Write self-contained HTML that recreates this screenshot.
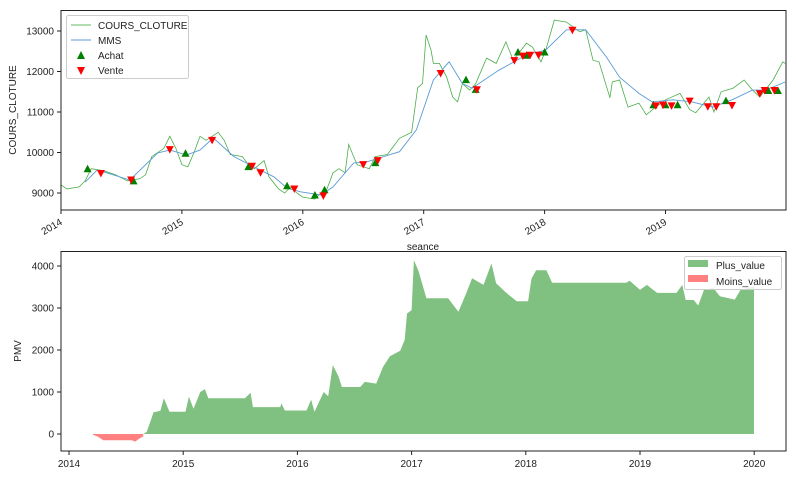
<!DOCTYPE html>
<html><head><meta charset="utf-8"><style>
body{margin:0;background:#fff}
svg text{font-family:"Liberation Sans","DejaVu Sans",sans-serif;font-size:10px;fill:#222}
</style></head><body>
<svg id="c" width="796" height="475" xmlns="http://www.w3.org/2000/svg"></svg>
<script>
// ---- top chart data ----
const priceT=[2014.0,2014.05,2014.15,2014.2,2014.25,2014.35,2014.45,2014.55,2014.65,2014.7,2014.75,2014.85,2014.9,2014.95,2015.0,2015.05,2015.1,2015.15,2015.2,2015.3,2015.35,2015.4,2015.5,2015.55,2015.6,2015.68,2015.72,2015.8,2015.85,2015.9,2015.95,2016.0,2016.1,2016.15,2016.2,2016.25,2016.3,2016.35,2016.38,2016.42,2016.45,2016.55,2016.6,2016.7,2016.8,2016.9,2016.95,2016.99,2017.02,2017.06,2017.08,2017.13,2017.19,2017.24,2017.28,2017.32,2017.38,2017.43,2017.52,2017.6,2017.68,2017.74,2017.85,2017.9,2017.97,2018.01,2018.08,2018.18,2018.29,2018.34,2018.4,2018.45,2018.54,2018.56,2018.62,2018.69,2018.78,2018.84,2018.92,2019.0,2019.12,2019.2,2019.25,2019.36,2019.4,2019.46,2019.56,2019.65,2019.72,2019.78,2019.89,2019.97,2019.99];
const priceV=[9200,9100,9150,9300,9600,9550,9450,9300,9350,9450,9900,10100,10400,10100,9700,9650,10000,10400,10300,10500,10300,9950,9900,9700,9600,9800,9400,9100,9000,9150,9000,8900,8850,9000,9100,9500,9600,9500,10200,9900,9700,9600,9900,9950,10350,10500,11600,11700,12900,12530,12200,12200,11860,11370,11250,11700,11540,11700,12330,12200,12730,12280,12700,12600,12240,12530,13270,13220,12980,13030,12280,12240,11350,11740,11790,11120,11220,10930,11120,11300,11460,11060,10980,11370,11000,11500,11590,11790,11540,11370,11790,12240,12200];
const mmsT=[2014.2,2014.3,2014.57,2014.8,2014.9,2015.04,2015.15,2015.26,2015.43,2015.6,2015.76,2015.87,2015.98,2016.15,2016.25,2016.42,2016.53,2016.8,2016.94,2017.08,2017.21,2017.32,2017.4,2017.62,2017.85,2018.01,2018.18,2018.34,2018.51,2018.62,2018.78,2018.89,2019.06,2019.22,2019.39,2019.55,2019.72,2019.83,2019.99];
const mmsV=[9270,9570,9320,9990,10060,9940,10060,10360,9900,9640,9400,9120,9030,8950,9150,9740,9770,10020,10560,11790,12240,11700,11590,12030,12410,12530,13030,13030,12360,11860,11460,11250,11300,11250,11120,11300,11540,11540,11740];
const buyT=[2014.22,2014.6,2015.03,2015.55,2015.87,2016.1,2016.18,2016.6,2017.35,2017.43,2017.78,2017.85,2018.0,2018.9,2019.0,2019.1,2019.5,2019.85,2019.93];
const buyV=[9600,9300,9980,9650,9180,8950,9080,9750,11800,11560,12480,12400,12480,11180,11180,11180,11280,11530,11530];
const sellT=[2014.33,2014.58,2014.9,2015.25,2015.58,2015.65,2015.93,2016.17,2016.5,2016.62,2017.14,2017.44,2017.75,2017.82,2017.88,2017.95,2018.23,2018.92,2018.98,2019.05,2019.2,2019.35,2019.42,2019.55,2019.78,2019.82,2019.9];
const sellV=[9480,9320,10070,10300,9660,9500,9100,8930,9700,9800,11950,11550,12270,12380,12400,12400,13020,11150,11170,11150,11270,11130,11130,11160,11450,11530,11530];
const topYTicks=[9000,10000,11000,12000,13000];
const topXTicks=[2014,2015,2016,2017,2018,2019];
// ---- bottom chart data ----
const lossT=[2014.21,2014.25,2014.3,2014.4,2014.55,2014.58,2014.62,2014.65];
const lossV=[-20,-60,-150,-150,-150,-180,-100,-60];
const gainT=[2014.65,2014.68,2014.72,2014.74,2014.8,2014.83,2014.88,2015.02,2015.05,2015.09,2015.15,2015.19,2015.22,2015.54,2015.59,2015.61,2015.85,2015.86,2015.89,2016.08,2016.12,2016.15,2016.23,2016.27,2016.31,2016.36,2016.39,2016.55,2016.59,2016.69,2016.75,2016.81,2016.9,2016.94,2016.96,2017.0,2017.02,2017.06,2017.13,2017.32,2017.41,2017.48,2017.53,2017.63,2017.7,2017.74,2017.83,2017.92,2018.02,2018.05,2018.09,2018.18,2018.23,2018.88,2018.91,2019.0,2019.06,2019.15,2019.32,2019.37,2019.4,2019.47,2019.51,2019.56,2019.64,2019.7,2019.83,2019.88,2019.998];
const gainV=[0,50,350,520,550,850,530,530,890,600,1000,1070,850,850,980,640,640,730,560,560,820,530,1000,900,1640,1370,1120,1120,1240,1200,1600,1850,1980,2240,2870,2950,4140,3880,3230,3230,2910,3360,3710,3550,4060,3590,3360,3160,3160,3700,3900,3900,3600,3600,3650,3430,3550,3360,3360,3550,3190,3190,3060,3430,3480,3280,3200,3430,3520];
const botYTicks=[0,1000,2000,3000,4000];
const botXTicks=[2014,2015,2016,2017,2018,2019,2020];

const NS='http://www.w3.org/2000/svg';
const svg=document.getElementById('c');
function mk(tag,attrs,parent){const e=document.createElementNS(NS,tag);for(const k in attrs)e.setAttribute(k,attrs[k]);(parent||svg).appendChild(e);return e;}
const tx=t=>61+(t-2014)*120.9, ty=v=>193-(v-9000)*0.0405;
const bx=t=>69+(t-2014)*114.2, by=v=>434-v*0.042;

let d='';priceT.forEach((t,i)=>{d+=(i?'L':'M')+tx(t).toFixed(1)+','+ty(priceV[i]).toFixed(1);});
let pl=mk('path',{d:d,fill:'none',stroke:'#2ca02c','stroke-width':0.8,'stroke-opacity':0.85});


d='';mmsT.forEach((t,i)=>{d+=(i?'L':'M')+tx(t).toFixed(1)+','+ty(mmsV[i]).toFixed(1);});
let ml=mk('path',{d:d,fill:'none',stroke:'#5b9bd5','stroke-width':0.9});


buyT.forEach((t,i)=>{const x=tx(t),y=ty(buyV[i]);
 const m=mk('polygon',{points:`${x-4},${y+3.5} ${x+4},${y+3.5} ${x},${y-4}`,fill:'#008000'});
 
 });
sellT.forEach((t,i)=>{const x=tx(t),y=ty(sellV[i]);
 const m=mk('polygon',{points:`${x-4},${y-3.5} ${x+4},${y-3.5} ${x},${y+4}`,fill:'#ff0000'});
 
 });
let fr=mk('rect',{x:61,y:10.5,width:725,height:199.5,fill:'none',stroke:'#222','stroke-width':1});


topYTicks.forEach(v=>{const y=ty(v);mk('line',{x1:57,x2:61,y1:y,y2:y,stroke:'#222'});
 const t=mk('text',{x:54,y:y+3.5,'text-anchor':'end'});t.textContent=v;
 
 });
topXTicks.forEach(yr=>{const x=tx(yr);mk('line',{x1:x,x2:x,y1:210,y2:214,stroke:'#222'});
 const t=mk('text',{x:x+2,y:224,'text-anchor':'end',transform:`rotate(-30 ${x+2} 224)`});t.textContent=yr;
 
 });

d='M'+bx(gainT[0])+','+by(0);gainT.forEach((t,i)=>{d+='L'+bx(t).toFixed(1)+','+by(gainV[i]).toFixed(1);});d+='L'+bx(gainT[gainT.length-1])+','+by(0)+'Z';
let ga=mk('path',{d:d,fill:'#80c080'});


d='M'+bx(lossT[0])+','+by(0);lossT.forEach((t,i)=>{d+='L'+bx(t).toFixed(1)+','+by(lossV[i]).toFixed(1);});d+='L'+bx(lossT[lossT.length-1])+','+by(0)+'Z';
let la=mk('path',{d:d,fill:'#ff8080'});


let fr2=mk('rect',{x:61,y:251.5,width:725,height:199.5,fill:'none',stroke:'#222','stroke-width':1});


botYTicks.forEach(v=>{const y=by(v);mk('line',{x1:57,x2:61,y1:y,y2:y,stroke:'#222'});
 const t=mk('text',{x:54,y:y+3.5,'text-anchor':'end'});t.textContent=v;
 
 });
botXTicks.forEach(yr=>{const x=bx(yr);mk('line',{x1:x,x2:x,y1:451,y2:455,stroke:'#222'});
 const t=mk('text',{x:x,y:467,'text-anchor':'middle'});t.textContent=yr;
 
 });
</script>
<div style="position:absolute;left:0;top:0;width:796px;height:475px;pointer-events:none">
<svg width="796" height="475" xmlns="http://www.w3.org/2000/svg" style="position:absolute;left:0;top:0">
 <text x="16" y="110" text-anchor="middle" transform="rotate(-90 16 110)">COURS_CLOTURE</text>
 <text x="423" y="250" text-anchor="middle">seance</text>
 <text x="21" y="351" text-anchor="middle" transform="rotate(-90 21 351)">PMV</text>
 <g>
  <rect x="66.5" y="15.5" width="122" height="63" rx="2" fill="#fff" stroke="#ccc"/>
  <line x1="71" x2="91" y1="25" y2="25" stroke="#2ca02c" stroke-width="0.8"/>
  <text x="98" y="29">COURS_CLOTURE</text>
  <line x1="71" x2="91" y1="40" y2="40" stroke="#5b9bd5" stroke-width="0.9"/>
  <text x="98" y="44">MMS</text>
  <polygon points="77,59 85,59 81,51" fill="#008000"/>
  <text x="98" y="59">Achat</text>
  <polygon points="77,67 85,67 81,75" fill="#ff0000"/>
  <text x="98" y="74">Vente</text>
 </g>
 <g>
  <rect x="684.5" y="256.5" width="97" height="33" rx="2" fill="#fff" fill-opacity="0.8" stroke="#ccc"/>
  <rect x="688" y="260" width="20" height="7" fill="#80c080"/>
  <text x="716" y="269">Plus_value</text>
  <rect x="688" y="275" width="20" height="7" fill="#ff8080"/>
  <text x="716" y="285">Moins_value</text>
 </g>
</svg></div>
</body></html>
